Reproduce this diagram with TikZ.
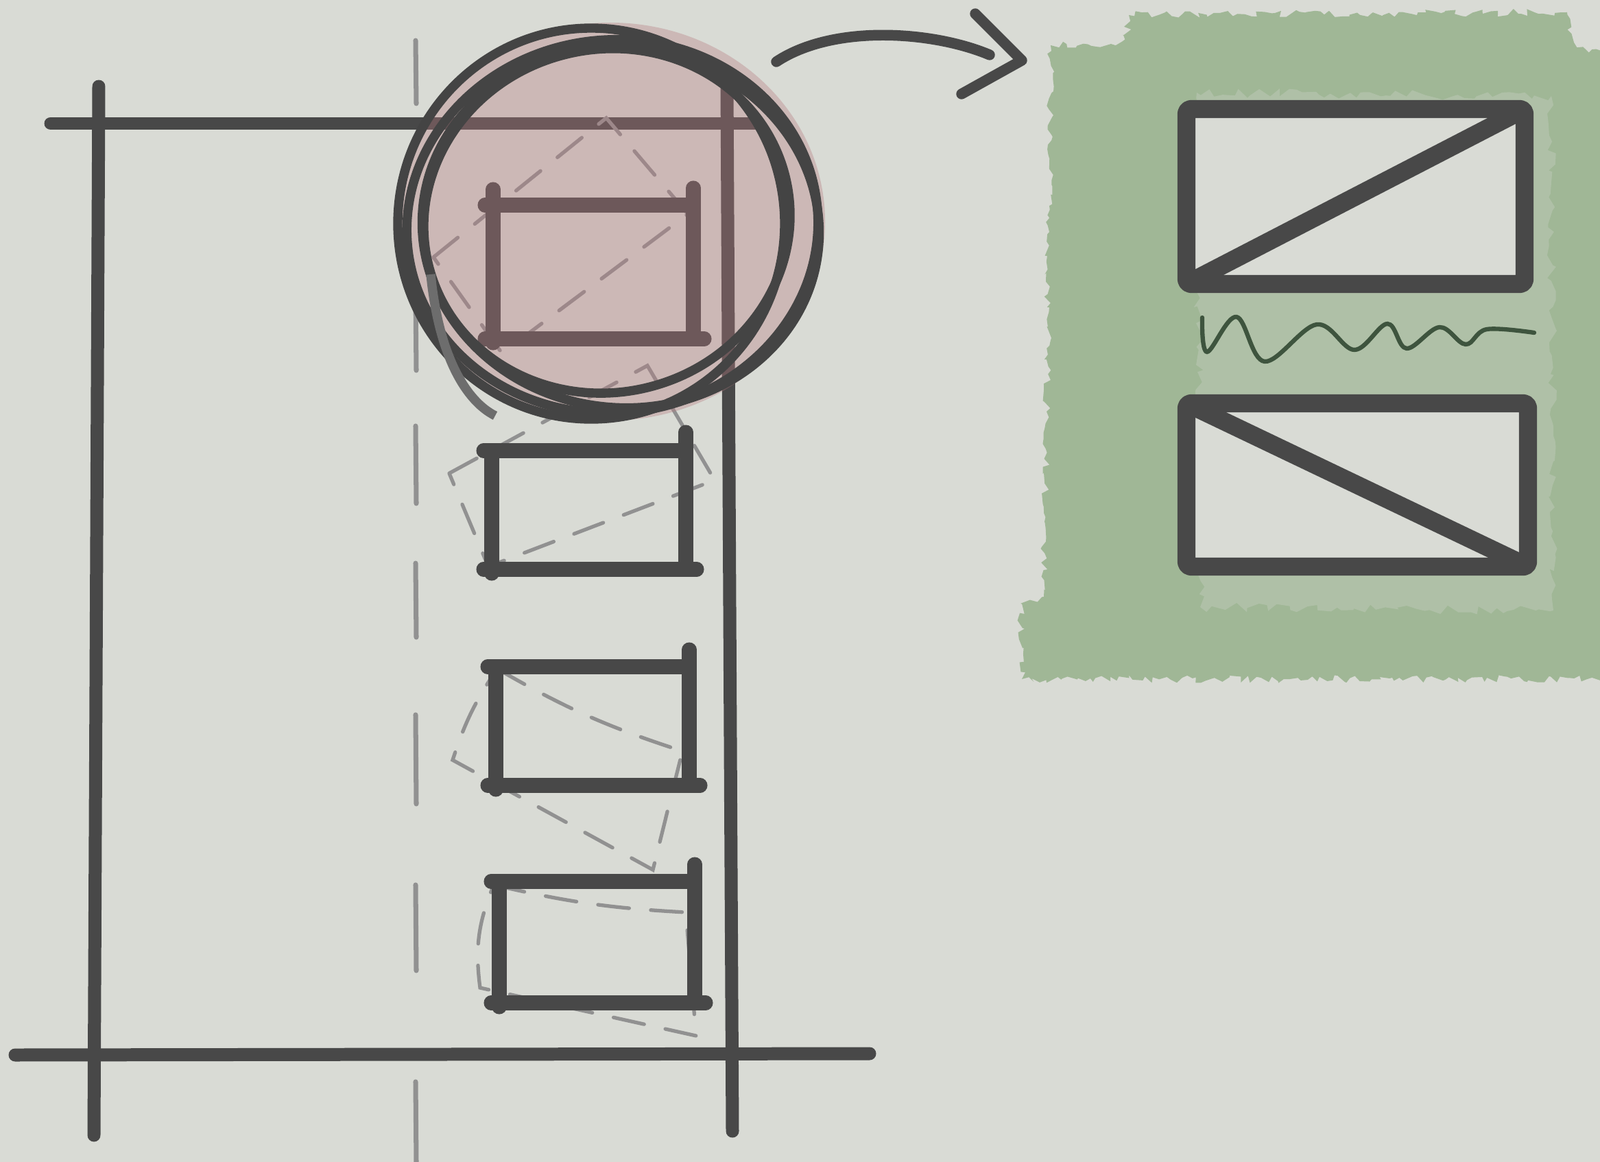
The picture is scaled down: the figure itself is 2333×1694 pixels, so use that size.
\documentclass[tikz,border=0pt]{standalone}
\usepackage{tikz}
\usetikzlibrary{calc,decorations.pathmorphing}
\definecolor{paper}{RGB}{217,219,213}
\definecolor{ink}{RGB}{72,72,72}
\definecolor{guide}{RGB}{145,145,145}
\definecolor{rose}{RGB}{180,120,125}
\definecolor{leaf}{RGB}{160,183,150}
\definecolor{moss}{RGB}{62,84,62}
\tikzset{
  frameln/.style={line width=5.4pt,draw=ink,line cap=round},
  guideln/.style={line width=2pt,draw=guide,line cap=round},
  tiltln/.style={line width=1.5pt,draw=guide,dash pattern=on 13pt off 9pt,line cap=round},
  winln/.style={line width=6pt,draw=ink,line cap=round},
  ringln/.style={line width=3.8pt,draw=ink!95!black},
  rosefill/.style={fill=rose,fill opacity=0.35},
  leaffill/.style={fill=leaf,decorate,decoration={random steps,segment length=2pt,amplitude=1.6pt}},
  halofill/.style={fill=leaf!40!paper,fill opacity=0.45,decorate,decoration={random steps,segment length=3pt,amplitude=2pt}},
  panelbox/.style={line width=7.5pt,draw=ink,fill=paper,line join=round,rounded corners=2pt},
  squig/.style={line width=1.8pt,draw=moss,line cap=round},
  bigarr/.style={line width=4.4pt,draw=ink,line cap=round,line join=round},
}
\begin{document}
\begin{tikzpicture}[x=0.01cm,y=-0.01cm]
  \useasboundingbox (0,0) rectangle (2333,1694);
  \fill[paper] (0,0) rectangle (2333,1694);
  % site frame
  \draw[frameln] (74,180) -- (1105,180);
  \draw[frameln] (144,126) -- (137,1655);
  \draw[frameln] (22,1538) -- (1268,1536);
  \draw[frameln] (1060,124) -- (1068,1649);
  \foreach \a/\b in {59/151,432/540,621/734,821/929,1042/1172,1290/1415,1577/1694}
    \draw[guideln] (606,\a) -- (607,\b);
  % tilted outlines
  \draw[tiltln] (632,375) -- (884,172) -- (1003,312) -- (732,515) -- cycle;
  \draw[tiltln] (655,690) -- (944,533) -- (1042,700) -- (712,826) -- cycle;
  \draw[tiltln] (725,975) to[bend right=6] (995,1095) -- (952,1268) -- (660,1108) to[bend left=8] (725,975);
  \draw[tiltln] (720,1290) to[bend right=5] (1000,1330) -- (1015,1510) -- (700,1440) to[bend left=15] (720,1290);
  % windows
  \foreach \xl/\xr/\yt/\yb/\yp/\yq in {719/1011/299/494/276/274,717/1000/657/830/657/630,
      723/1005/972/1145/972/947,728/1013/1285/1462/1285/1260}
    \draw[winln] (\xl-12,\yt) -- (\xr,\yt) (\xl,\yp) -- (\xl,\yb+6) (\xl-12,\yb) -- (\xr+16,\yb) (\xr,\yq) -- (\xr,\yb);
  % focus ring
  \fill[rosefill] (890,323) ellipse [x radius=313, y radius=290];
  \draw[ringln] (862,326) ellipse [x radius=282, y radius=285];
  \draw[ringln, rotate around={-8:(905,332)}] (905,332) ellipse [x radius=290, y radius=262];
  \draw[ringln, rotate around={14:(885,322)}] (885,322) ellipse [x radius=268, y radius=250];
  \draw[ringln, rotate around={6:(893,330)}] (893,330) ellipse [x radius=300, y radius=272];
  \draw[ringln, draw=ink!80] (628,400) .. controls (640,520) and (680,585) .. (722,606);
  % arrow
  \coordinate (ringE) at (1132,90);
  \coordinate (panW) at (1443,80);
  \draw[bigarr] (ringE) .. controls (1215,35) and (1360,45) .. (panW);
  \draw[bigarr] (1422,20) -- (1490,88) -- (1402,137);
  % detail panel
  \fill[leaffill] (1532,66) -- (1642,62) -- (1646,22) -- (2285,18) -- (2295,62) -- (2360,88)
    -- (2360,990) -- (1490,990) -- (1488,880) -- (1522,870) -- (1526,600) -- (1530,300) -- cycle;
  \fill[halofill] (1745,135) -- (2262,140) -- (2265,890) -- (1750,885) -- cycle;
  \draw[panelbox] (1730,159) rectangle (2223,414);
  \draw[panelbox] (1730,414) -- (2223,159);
  \draw[panelbox] (1730,588) rectangle (2228,826);
  \draw[panelbox] (1730,588) -- (2228,826);
  \draw[squig] plot[smooth, tension=0.6] coordinates {(1753,463) (1760,513) (1803,462) (1844,527)
    (1920,473) (1975,510) (2023,472) (2051,508) (2099,477) (2137,502) (2168,480) (2237,485)};
\end{tikzpicture}
\end{document}
